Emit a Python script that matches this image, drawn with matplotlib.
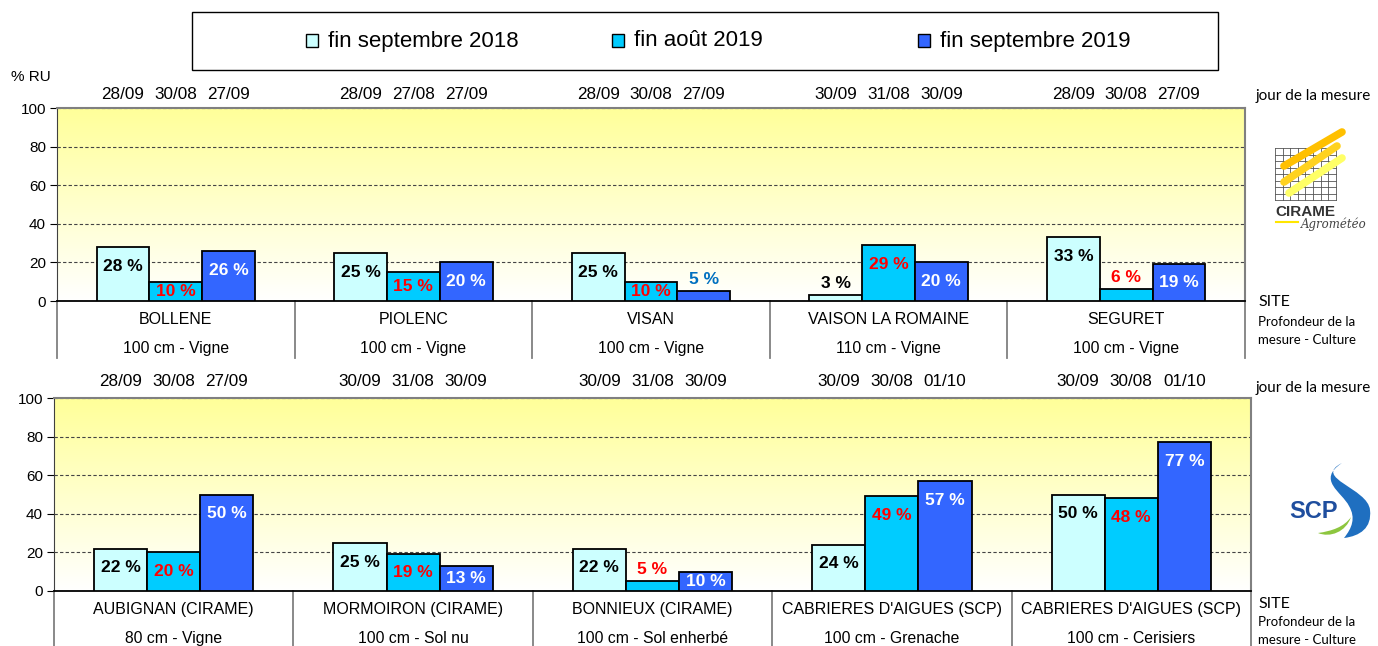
import numpy as np
import matplotlib
matplotlib.use('Agg')
import matplotlib.pyplot as plt
from matplotlib.colors import LinearSegmentedColormap
from matplotlib.patches import Rectangle, PathPatch
from matplotlib.path import Path

plt.rcParams['font.family'] = ['Liberation Sans', 'DejaVu Sans']

series_names = ['fin septembre 2018', 'fin août 2019', 'fin septembre 2019']
bar_colors = ['#CCFFFF', '#00CCFF', '#3366FF']
inside_colors = ['black', '#FF0000', 'white']
outside_colors = ['black', '#FF0000', '#0070C0']

# panneau du haut
top_sites = ['BOLLENE', 'PIOLENC', 'VISAN', 'VAISON LA ROMAINE', 'SEGURET']
top_depths = ['100 cm - Vigne', '100 cm - Vigne', '100 cm - Vigne', '110 cm - Vigne', '100 cm - Vigne']
top_sep2018 = [28, 25, 25, 3, 33]
top_aug2019 = [10, 15, 10, 29, 6]
top_sep2019 = [26, 20, 5, 20, 19]
top_dates = [['28/09', '30/08', '27/09'], ['28/09', '27/08', '27/09'], ['28/09', '30/08', '27/09'],
             ['30/09', '31/08', '30/09'], ['28/09', '30/08', '27/09']]

# panneau du bas
bottom_sites = ['AUBIGNAN (CIRAME)', 'MORMOIRON (CIRAME)', 'BONNIEUX (CIRAME)',
                "CABRIERES D'AIGUES (SCP)", "CABRIERES D'AIGUES (SCP)"]
bottom_depths = ['80 cm - Vigne', '100 cm - Sol nu', '100 cm - Sol enherbé', '100 cm - Grenache', '100 cm - Cerisiers']
bottom_sep2018 = [22, 25, 22, 24, 50]
bottom_aug2019 = [20, 19, 5, 49, 48]
bottom_sep2019 = [50, 13, 10, 57, 77]
bottom_dates = [['28/09', '30/08', '27/09'], ['30/09', '31/08', '30/09'], ['30/09', '31/08', '30/09'],
                ['30/09', '30/08', '01/10'], ['30/09', '30/08', '01/10']]

W, H = 1378, 646
fig = plt.figure(figsize=(W / 100, H / 100), dpi=100)


def fx(px):
    return px / W


def fy(py):
    return 1 - py / H


bg = LinearSegmentedColormap.from_list('bg', ['#FFFFFF', '#FFFF99'])


def draw_panel(ax, sites, depths, dates, values, date_y):
    n = len(sites)
    x = np.arange(n)
    w = 0.222
    ax.imshow(np.linspace(1, 0, 256).reshape(-1, 1), cmap=bg, extent=[-0.5, n - 0.5, 0, 100],
              aspect='auto', zorder=0)
    for k in range(3):
        xs = x + (k - 1) * w
        ax.bar(xs, values[k], width=w, color=bar_colors[k], edgecolor='black', linewidth=1.3, zorder=3)
        for xi, v, d in zip(xs, values[k], dates):
            if v < 8:
                y, c = v + 6, outside_colors[k]
            else:
                y, c = max(v - 10, v / 2), inside_colors[k]
            ax.text(xi, y, f'{v} %', ha='center', va='center', fontsize=12.5, fontweight='bold',
                    color=c, zorder=4)
            ax.text(xi, date_y, d[k], transform=ax.get_xaxis_transform(), ha='center', va='center',
                    fontsize=12.3)
    tr = ax.get_xaxis_transform()
    for i in range(n):
        ax.text(i, -0.098, sites[i], transform=tr, ha='center', va='center', fontsize=11.5)
        ax.text(i, -0.244, depths[i], transform=tr, ha='center', va='center', fontsize=11.3)
    for b in np.arange(n + 1) - 0.5:
        ax.plot([b, b], [0, -0.295], transform=tr, color='#808080', lw=1.3, clip_on=False)
    ax.set_xlim(-0.5, n - 0.5)
    ax.set_ylim(0, 100)
    ax.set_yticks(range(0, 101, 20))
    ax.set_xticks([])
    ax.set_axisbelow(True)
    ax.yaxis.grid(True, linestyle=(0, (3, 2)), color='#444444', lw=0.8)
    ax.tick_params(axis='y', direction='out', length=5, labelsize=11, pad=3)
    for s in ['top', 'right']:
        ax.spines[s].set_color('#808080')
        ax.spines[s].set_linewidth(1.5)
    ax.spines['left'].set_color('#404040')
    ax.spines['bottom'].set_linewidth(1.3)


ax1 = fig.add_axes([fx(57), fy(301), fx(1245) - fx(57), 193 / H])
draw_panel(ax1, top_sites, top_depths, top_dates, [top_sep2018, top_aug2019, top_sep2019], 1.07)

ax2 = fig.add_axes([fx(54), fy(591), fx(1251) - fx(54), 193 / H])
draw_panel(ax2, bottom_sites, bottom_depths, bottom_dates, [bottom_sep2018, bottom_aug2019, bottom_sep2019], 1.083)

fig.text(fx(31), fy(77), '% RU', ha='center', va='center', fontsize=11)

# legende
fig.patches.append(Rectangle((fx(192), fy(70)), fx(1218) - fx(192), 58 / H, transform=fig.transFigure,
                             facecolor='white', edgecolor='black', lw=1))
for px, name, col in zip([306, 612, 918], series_names, bar_colors):
    fig.patches.append(Rectangle((fx(px), fy(47)), 12 / W, 13 / H, transform=fig.transFigure,
                                 facecolor=col, edgecolor='black', lw=1))
    fig.text(fx(px + 22), fy(41), name, ha='left', va='center', fontsize=16)

# textes a droite
side = dict(family=['Lato', 'DejaVu Sans'], ha='left', va='center')
for yj, ys, yp, ym in [(96, 302, 322, 340), (388, 604, 622, 640)]:
    fig.text(fx(1256), fy(yj), 'jour de la mesure', fontsize=11, **side)
    fig.text(fx(1258), fy(ys), 'SITE', fontsize=11.5, **side)
    fig.text(fx(1258), fy(yp), 'Profondeur de la', fontsize=9.5, **side)
    fig.text(fx(1258), fy(ym), 'mesure - Culture', fontsize=9.5, **side)

# logo CIRAME
lg = fig.add_axes([fx(1270), fy(235), 105 / W, 110 / H])
lg.set_xlim(1270, 1375)
lg.set_ylim(235, 125)
lg.axis('off')
for gx in np.linspace(1275, 1336, 9):
    lg.plot([gx, gx], [148, 200], color='#555555', lw=0.6)
for gy in np.linspace(148, 200, 9):
    lg.plot([1275, 1336], [gy, gy], color='#555555', lw=0.6)
for (x0, y0, x1, y1), c in zip([(1284, 166, 1342, 132), (1284, 182, 1337, 146), (1289, 193, 1342, 158)],
                               ['#FFC000', '#FFD21F', '#FFFF66']):
    lg.plot([x0, x1], [y0, y1], color=c, lw=5.5, solid_capstyle='round')
lg.text(1305, 212, 'CIRAME', ha='center', va='center', fontsize=11, fontweight='bold', color='#333333')
lg.plot([1276, 1298], [222, 222], color='#FFE600', lw=1.5)
lg.text(1334, 224, 'Agrométéo', ha='center', va='center', fontsize=8.5, style='italic', color='#444444',
        family=['DejaVu Serif'])

# logo SCP
sc = fig.add_axes([fx(1280), fy(545), 98 / W, 90 / H])
sc.set_xlim(1280, 1378)
sc.set_ylim(545, 455)
sc.axis('off')
swoosh = Path([(1342, 463), (1312, 478), (1368, 488), (1370, 510), (1372, 528), (1360, 536), (1344, 538),
               (1352, 528), (1356, 518), (1349, 506), (1342, 492), (1316, 480), (1342, 463)],
              [Path.MOVETO] + [Path.CURVE4] * 12)
sc.add_patch(PathPatch(swoosh, facecolor='#1F6FC0', edgecolor='none'))
green = Path([(1318, 533), (1330, 538), (1346, 532), (1351, 517), (1344, 527), (1332, 531), (1318, 533)],
             [Path.MOVETO] + [Path.CURVE4] * 6)
sc.add_patch(PathPatch(green, facecolor='#8DC63F', edgecolor='none'))
sc.text(1314, 512, 'SCP', ha='center', va='center', fontsize=17, fontweight='bold', color='#1F4E9E')

fig.savefig('out.png', dpi=100)
